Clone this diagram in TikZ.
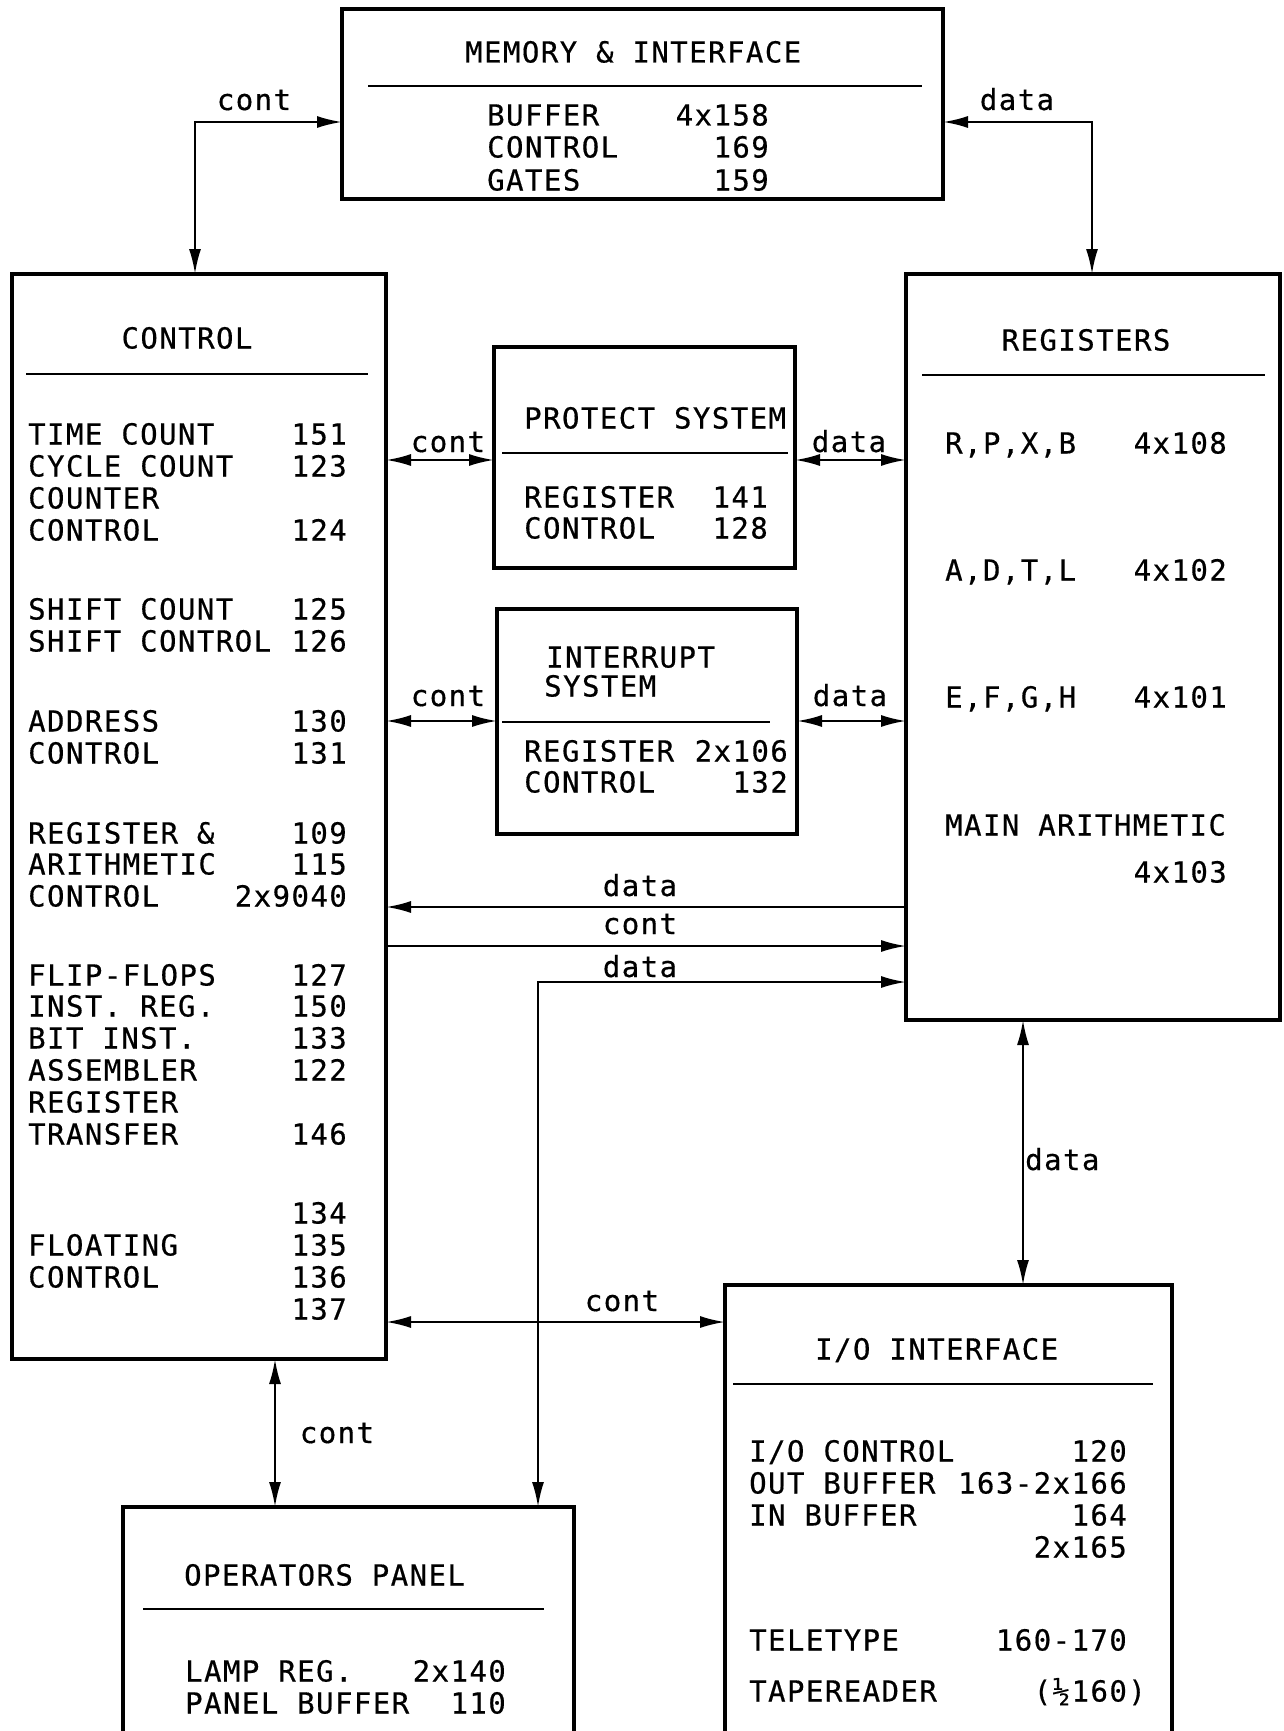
\documentclass[tikz,border=0pt]{standalone}
\usepackage{fontspec}
\newfontfamily\mono{DejaVu Sans Mono}[LetterSpace=5,FakeBold=0.5]
\usetikzlibrary{arrows.meta}
\newcommand\Lrow[4]{\node[txt,anchor=west] (#1) at (#2,#3) {#4};}
\newcommand\Rrow[4]{\node[txt,anchor=east] (#1) at (#2,#3) {#4};}
\begin{document}
\begin{tikzpicture}[x=1pt,y=-1pt,
  box/.style={draw, line width=3.5pt, inner sep=0pt, outer sep=0pt, anchor=north west},
  txt/.style={font=\mono\fontsize{29pt}{32pt}\selectfont\frenchspacing, inner sep=0pt, text height=21pt, text depth=0pt},
  lab/.style={font=\mono\fontsize{29pt}{32pt}\selectfont, inner sep=0pt, anchor=base},
  conn/.style={line width=2.2pt},
  rule/.style={line width=2pt},
  >={Latex[length=25pt,width=12pt]}]
\useasboundingbox (0,0) rectangle (1283,1731);
\clip (0,0) rectangle (1283,1731);
\fill[white] (0,0) rectangle (1283,1731);

% boxes
\node[box, minimum width=601pt, minimum height=190pt] (mem) at (342,9) {};
\node[box, minimum width=374pt, minimum height=1085pt] (ctrl) at (12,274) {};
\node[box, minimum width=301pt, minimum height=221pt] (prot) at (494,347) {};
\node[box, minimum width=300pt, minimum height=225pt] (intr) at (497,609) {};
\node[box, minimum width=374pt, minimum height=746pt] (regs) at (906,274) {};
\node[box, minimum width=451pt, minimum height=260pt] (panel) at (123,1507) {};
\node[box, minimum width=447pt, minimum height=480pt] (io) at (725,1285) {};

% divider rules
\draw[rule] (368,86) -- (922,86);
\draw[rule] (26,374) -- (368,374);
\draw[rule] (502,453) -- (788,453);
\draw[rule] (502,722) -- (770,722);
\draw[rule] (922,375) -- (1265,375);
\draw[rule] (143,1609) -- (544,1609);
\draw[rule] (733,1384) -- (1153,1384);

% memory
\Lrow{memT}{465}{52}{MEMORY \& INTERFACE}
\Lrow{m1}{487}{115}{BUFFER}   \Rrow{m1n}{769}{115}{4x158}
\Lrow{m2}{487}{147}{CONTROL}  \Rrow{m2n}{769}{147}{169}
\Lrow{m3}{487}{180}{GATES}    \Rrow{m3n}{769}{180}{159}

% control
\node[txt] (ctrlT) at (187,338) {CONTROL};
\Lrow{c1}{28}{434}{TIME COUNT}      \Rrow{c1n}{347}{434}{151}
\Lrow{c2}{28}{466}{CYCLE COUNT}     \Rrow{c2n}{347}{466}{123}
\Lrow{c3}{28}{498}{COUNTER}
\Lrow{c4}{28}{530}{CONTROL}         \Rrow{c4n}{347}{530}{124}
\Lrow{c5}{28}{609}{SHIFT COUNT}     \Rrow{c5n}{347}{609}{125}
\Lrow{c6}{28}{641}{SHIFT CONTROL}   \Rrow{c6n}{347}{641}{126}
\Lrow{c7}{28}{721}{ADDRESS}         \Rrow{c7n}{347}{721}{130}
\Lrow{c8}{28}{753}{CONTROL}         \Rrow{c8n}{347}{753}{131}
\Lrow{c9}{28}{833}{REGISTER \&}     \Rrow{c9n}{347}{833}{109}
\Lrow{c10}{28}{864}{ARITHMETIC}     \Rrow{c10n}{347}{864}{115}
\Lrow{c11}{28}{896}{CONTROL}        \Rrow{c11n}{347}{896}{2x9040}
\Lrow{c12}{28}{975}{FLIP-FLOPS}     \Rrow{c12n}{347}{975}{127}
\Lrow{c13}{28}{1006}{INST. REG.}    \Rrow{c13n}{347}{1006}{150}
\Lrow{c14}{28}{1038}{BIT INST.}     \Rrow{c14n}{347}{1038}{133}
\Lrow{c15}{28}{1070}{ASSEMBLER}     \Rrow{c15n}{347}{1070}{122}
\Lrow{c16}{28}{1102}{REGISTER}
\Lrow{c17}{28}{1134}{TRANSFER}      \Rrow{c17n}{347}{1134}{146}
\Rrow{c18n}{347}{1213}{134}
\Lrow{c19}{28}{1245}{FLOATING}      \Rrow{c19n}{347}{1245}{135}
\Lrow{c20}{28}{1277}{CONTROL}       \Rrow{c20n}{347}{1277}{136}
\Rrow{c21n}{347}{1309}{137}

% protect
\Lrow{pT}{524}{418}{PROTECT SYSTEM}
\Lrow{p1}{524}{497}{REGISTER}  \Rrow{p1n}{768}{497}{141}
\Lrow{p2}{524}{528}{CONTROL}   \Rrow{p2n}{768}{528}{128}

% interrupt
\Lrow{iT1}{546}{657}{INTERRUPT}
\Lrow{iT2}{544}{686}{SYSTEM}
\Lrow{i1}{524}{751}{REGISTER}  \Rrow{i1n}{788}{751}{2x106}
\Lrow{i2}{524}{782}{CONTROL}   \Rrow{i2n}{788}{782}{132}

% registers
\node[txt] (rT) at (1086,340) {REGISTERS};
\Lrow{r1}{945}{443}{R,P,X,B}   \Rrow{r1n}{1227}{443}{4x108}
\Lrow{r2}{945}{570}{A,D,T,L}   \Rrow{r2n}{1227}{570}{4x102}
\Lrow{r3}{945}{697}{E,F,G,H}   \Rrow{r3n}{1227}{697}{4x101}
\Lrow{r4}{945}{825}{MAIN ARITHMETIC}
\Rrow{r5n}{1227}{872}{4x103}

% operators panel
\Lrow{opT}{184}{1575}{OPERATORS PANEL}
\Lrow{o1}{185}{1671}{LAMP REG.}     \Rrow{o1n}{506}{1671}{2x140}
\Lrow{o2}{185}{1703}{PANEL BUFFER}  \Rrow{o2n}{506}{1703}{110}

% I/O interface
\Lrow{ioT}{815}{1349}{I/O INTERFACE}
\Lrow{io1}{749}{1451}{I/O CONTROL}   \Rrow{io1n}{1127}{1451}{120}
\Lrow{io2}{749}{1483}{OUT BUFFER}    \Rrow{io2n}{1127}{1483}{163-2x166}
\Lrow{io3}{749}{1515}{IN BUFFER}     \Rrow{io3n}{1127}{1515}{164}
\Rrow{io4n}{1127}{1547}{2x165}
\Lrow{io5}{749}{1640}{TELETYPE}      \Rrow{io5n}{1127}{1640}{160-170}
\Lrow{io6}{749}{1691}{TAPEREADER}    \Rrow{io6n}{1146}{1691}{(½160)}

% connector coordinates
\coordinate (mc) at (195,122);
\coordinate (md) at (1092,122);
\coordinate (yp) at (0,460);
\coordinate (yi) at (0,721);
\coordinate (yd1) at (0,907);
\coordinate (yc1) at (0,946);
\coordinate (pd) at (538,982);
\coordinate (yio) at (0,1322);
\coordinate (xp) at (275,0);
\coordinate (xr) at (1023,0);

% connectors
\draw[conn,<->] (ctrl.north -| mc) -- (mc) -- (mem.west |- mc);
\draw[conn,<->] (mem.east |- md) -- (md) -- (regs.north -| md);
\draw[conn,<->] (ctrl.east |- yp) -- (prot.west |- yp);
\draw[conn,<->] (prot.east |- yp) -- (regs.west |- yp);
\draw[conn,<->] (ctrl.east |- yi) -- (intr.west |- yi);
\draw[conn,<->] (intr.east |- yi) -- (regs.west |- yi);
\draw[conn,->] (regs.west |- yd1) -- (ctrl.east |- yd1);
\draw[conn,->] (ctrl.east |- yc1) -- (regs.west |- yc1);
\draw[conn,<->] (regs.west |- pd) -- (pd) -- (panel.north -| pd);
\draw[conn,<->] (ctrl.east |- yio) -- (io.west |- yio);
\draw[conn,<->] (ctrl.south -| xp) -- (panel.north -| xp);
\draw[conn,<->] (regs.south -| xr) -- (io.north -| xr);

% connector labels
\node[lab] (lmc) at (254,110) {cont};
\node[lab] (lmd) at (1017,110) {data};
\node[lab] (lpc) at (448,452) {cont};
\node[lab] (lpd) at (849,452) {data};
\node[lab] (lic) at (448,706) {cont};
\node[lab] (lid) at (850,706) {data};
\node[lab] (ld1) at (640,896) {data};
\node[lab] (lc1) at (640,934) {cont};
\node[lab] (ld2) at (640,977) {data};
\node[lab] (lioc) at (622,1311) {cont};
\node[lab] (lpc2) at (337,1443) {cont};
\node[lab,anchor=base west] (lrd) at (1025,1170) {data};
\end{tikzpicture}
\end{document}
